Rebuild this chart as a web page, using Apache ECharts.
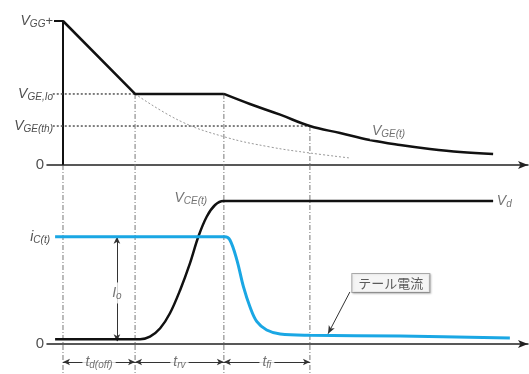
<!DOCTYPE html>
<html>
<head>
<meta charset="utf-8">
<script src="https://cdn.jsdelivr.net/npm/echarts@6/dist/echarts.min.js"></script>
<style>
  html, body { margin: 0; padding: 0; background: #fff; }
  #chart { width: 529px; height: 374px; }
</style>
</head>
<body>
<div id="chart"></div>
<script>
// Time markers: start of turn-off, end of td(off), end of trv, end of tfi
const timeMarks = [0, 1.55, 3.46, 5.31];
const intervalNames = ['d(off)', 'rv', 'fi'];

// Gate voltage levels
const vGG = 15;
const vGEIo = 7.40;
const vGEth = 4.06;

// Gate-emitter voltage: linear discharge + Miller plateau
const gateLinX = [0, 1.55, 3.46];
const gateLinY = [15, 7.40, 7.40];
// Gate-emitter voltage: decay after the plateau
const gateDecX = [3.46, 4.02, 4.67, 5.31, 5.96, 6.60, 7.25, 7.89, 8.54, 9.25];
const gateDecY = [7.40, 6.35, 5.24, 4.06, 3.33, 2.60, 2.08, 1.67, 1.35, 1.15];
// Gate discharge without the Miller plateau (dotted)
const gateFreeX = [1.55, 2.52, 3.48, 4.45, 5.31, 6.17];
const gateFreeY = [7.40, 4.58, 2.92, 1.88, 1.25, 0.73];

// Collector-emitter voltage
const vceX = [-0.17, 1.66, 1.87, 2.09, 2.30, 2.52, 2.73, 2.91, 3.09, 3.27, 3.45, 9.25];
const vceY = [0.33, 0.33, 0.51, 1.10, 2.15, 3.78, 5.64, 7.50, 8.90, 9.72, 10, 10];
const vd = 10;

// Collector current
const icX = [-0.17, 3.48, 3.59, 3.74, 3.88, 4.02, 4.17, 4.38, 4.67, 5.31, 7.25, 9.61];
const icY = [7.50, 7.50, 7.27, 5.87, 4.01, 2.61, 1.56, 0.98, 0.70, 0.61, 0.56, 0.42];
const io = 7.50;

const zip = (xs, ys) => xs.map((x, i) => [x, ys[i]]);

const TEXT = '#505050';
const FONT = 'Liberation Sans, Arial, sans-serif';
const rich = {
  v: { fontSize: 14, fontStyle: 'italic', color: TEXT, fontFamily: FONT },
  s: { fontSize: 10, fontStyle: 'italic', color: TEXT, fontFamily: FONT, padding: [7, 0, 0, 0] },
  p: { fontSize: 13, color: TEXT, fontFamily: FONT },
  z: { fontSize: 15, color: TEXT, fontFamily: FONT, padding: [0, 9, 0, 0] },
  i: { fontSize: 14, fontStyle: 'italic', color: TEXT, fontFamily: FONT },
  ic: { fontSize: 14, fontStyle: 'italic', color: TEXT, fontFamily: FONT },
  ics: { fontSize: 10, fontStyle: 'italic', color: TEXT, fontFamily: FONT, padding: [7, 3, 0, 0] }
};

const dashDot = { color: '#777', width: 1, type: [5, 2, 1, 2] };

const series = [];
const vLine = (gi, x, y0, y1) => series.push({
  type: 'line', xAxisIndex: gi, yAxisIndex: gi, data: [[x, y0], [x, y1]],
  symbol: 'none', lineStyle: dashDot, silent: true, z: 1
});

// Top panel verticals
vLine(0, timeMarks[1], vGEIo, 0);
vLine(0, timeMarks[2], vGEIo, 0);
vLine(0, timeMarks[3], vGEth, 0);
// Bottom panel verticals
timeMarks.forEach(t => vLine(1, t, 12.52, -2.1));

// Reference levels
series.push({
  type: 'line', xAxisIndex: 0, yAxisIndex: 0, data: [[-0.22, vGEIo], [timeMarks[1], vGEIo]],
  symbol: 'none', lineStyle: { color: '#555', width: 1.5, type: [2, 2] }, silent: true
});
series.push({
  type: 'line', xAxisIndex: 0, yAxisIndex: 0, data: [[-0.22, vGEth], [timeMarks[3], vGEth]],
  symbol: 'none', lineStyle: { color: '#555', width: 1.5, type: [2, 2] }, silent: true
});
series.push({
  type: 'line', xAxisIndex: 0, yAxisIndex: 0, data: zip(gateFreeX, gateFreeY),
  symbol: 'none', smooth: 0.4, lineStyle: { color: '#999', width: 1, type: [2, 2] }, silent: true
});

// Gate voltage
series.push({
  type: 'line', xAxisIndex: 0, yAxisIndex: 0, data: zip(gateLinX, gateLinY),
  symbol: 'none', lineStyle: { color: '#111', width: 2.5 }, z: 5
});
series.push({
  type: 'line', xAxisIndex: 0, yAxisIndex: 0, data: zip(gateDecX, gateDecY),
  symbol: 'none', smooth: 0.4, lineStyle: { color: '#111', width: 2.5 }, z: 5
});
// VGE(t) label
series.push({
  type: 'scatter', xAxisIndex: 0, yAxisIndex: 0, data: [[6.60, 3.54]], symbolSize: 0, silent: true, z: 6,
  label: { show: true, position: 'right', distance: 0, formatter: '{v|V}{s|GE(t)}', rich,
    backgroundColor: '#fff', padding: [0, 2, 0, 2] }
});

// Collector-emitter voltage
series.push({
  type: 'line', xAxisIndex: 1, yAxisIndex: 1, data: zip(vceX, vceY),
  symbol: 'none', smooth: 0.35, lineStyle: { color: '#111', width: 2.5 }, z: 5
});
// Collector current
series.push({
  type: 'line', xAxisIndex: 1, yAxisIndex: 1, data: zip(icX, icY),
  symbol: 'none', smooth: 0.35, lineStyle: { color: '#1aa7e4', width: 3 }, z: 6
});

// Labels in the bottom panel
const labelSeries = (pt, fmt, pos, extra) => series.push(Object.assign({
  type: 'scatter', xAxisIndex: 1, yAxisIndex: 1, data: [pt], symbolSize: 0, silent: true, z: 8,
  label: Object.assign({ show: true, position: pos, distance: 0, formatter: fmt, rich }, extra || {})
}));
labelSeries([3.10, 10.2], '{v|V}{s|CE(t)}', 'left');
labelSeries([9.33, vd], '{v|V}{s|d}', 'right');
labelSeries([1.16, 3.57], '{i|I}{s|o}', 'inside', { backgroundColor: '#fff', padding: [2, 1, 2, 1] });

// Io dimension arrow and interval arrows
series.push({
  type: 'line', xAxisIndex: 1, yAxisIndex: 1, data: [], symbol: 'none', silent: true,
  markLine: {
    silent: true, animation: false, symbol: ['arrow', 'arrow'], symbolSize: [5, 7],
    lineStyle: { color: '#333', width: 1, type: 'solid' },
    label: { show: false },
    data: [
      [{ coord: [1.16, io] }, { coord: [1.16, 0.2] }],
      [{ coord: [timeMarks[0], -1.26] }, { coord: [timeMarks[1], -1.26] }],
      [{ coord: [timeMarks[1], -1.26] }, { coord: [timeMarks[2], -1.26] }],
      [{ coord: [timeMarks[2], -1.26] }, { coord: [timeMarks[3], -1.26] }]
    ]
  }
});
intervalNames.forEach((n, k) => {
  labelSeries([(timeMarks[k] + timeMarks[k + 1]) / 2, -1.26], '{t|t}{ts|' + n + '}', 'inside', {
    backgroundColor: '#fff', padding: [0, 3, 0, 3],
    rich: Object.assign({}, rich, {
      t: { fontSize: 14, fontStyle: 'italic', color: TEXT, fontFamily: FONT },
      ts: { fontSize: 10, fontStyle: 'italic', color: TEXT, fontFamily: FONT, padding: [7, 0, 0, 0] }
    })
  });
});

// Tail current callout
series.push({
  type: 'line', xAxisIndex: 1, yAxisIndex: 1, data: [], symbol: 'none', silent: true,
  markLine: {
    silent: true, animation: false, symbol: ['none', 'arrow'], symbolSize: [5, 8],
    lineStyle: { color: '#333', width: 1, type: 'solid' }, label: { show: false },
    data: [[{ coord: [6.17, 3.64] }, { coord: [5.70, 0.72] }]]
  }
});
labelSeries([7.05, 4.27], 'テール電流', 'inside', {
  fontFamily: 'Noto Sans CJK JP', fontSize: 13, color: '#333',
  backgroundColor: '#fff', borderColor: '#999', borderWidth: 1,
  padding: [3, 6, 2, 6], shadowColor: 'rgba(0,0,0,0.25)', shadowBlur: 2, shadowOffsetX: 1, shadowOffsetY: 1
});

const chart = echarts.init(document.getElementById('chart'), null, { renderer: 'canvas' });
chart.setOption({
  animation: false,
  backgroundColor: '#fff',
  grid: [
    { left: 47, right: 1, top: 21, height: 144, outerBoundsMode: 'none', containLabel: false },
    { left: 47, right: 1, top: 165, bottom: 0, outerBoundsMode: 'none', containLabel: false }
  ],
  xAxis: [0, 1].map(gi => ({
    type: 'value', gridIndex: gi, min: -0.344, max: 10,
    axisLine: { show: true, onZero: true, symbol: ['none', 'arrow'], symbolSize: [6, 10],
      lineStyle: { color: '#222', width: 1.5 } },
    axisTick: { show: false }, axisLabel: { show: false }, splitLine: { show: false }
  })),
  yAxis: [
    {
      type: 'value', gridIndex: 0, min: 0, max: vGG,
      axisLine: { show: true, onZero: true, lineStyle: { color: '#111', width: 2 } },
      axisTick: { show: true, customValues: [vGG], length: 9, lineStyle: { color: '#111', width: 2 } },
      axisLabel: {
        show: true, margin: -6, customValues: [0, vGEth, vGEIo, vGG], rich,
        formatter: v => v === 0 ? '{z|0}' : v === vGG ? '{v|V}{s|GG}{p|+}'
          : v === vGEIo ? '{v|V}{s|GE,Io}' : '{v|V}{s|GE(th)}'
      },
      splitLine: { show: false }
    },
    {
      type: 'value', gridIndex: 1, min: -2.098, max: 12.52,
      axisLine: { show: false, onZero: true },
      axisTick: { show: false },
      axisLabel: {
        show: true, margin: -6, customValues: [0, io], rich,
        formatter: v => v === 0 ? '{z|0}' : '{ic|i}{ics|C(t)}'
      },
      splitLine: { show: false }
    }
  ],
  series
});
</script>
</body>
</html>
